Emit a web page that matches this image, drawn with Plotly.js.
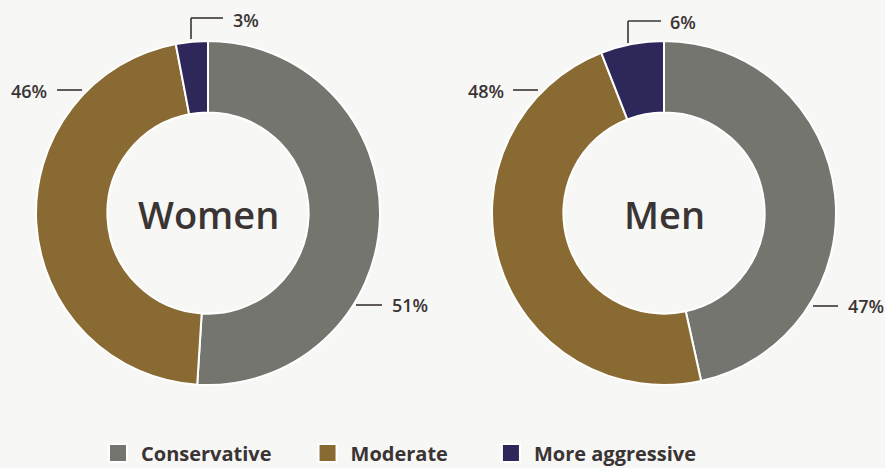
<!DOCTYPE html>
<html>
<head>
<meta charset="utf-8">
<script src="https://cdn.plot.ly/plotly-3.0.1.min.js"></script>
<style>html,body{margin:0;padding:0;background:#f7f7f5;}#chart{width:885px;height:468px;}</style>
</head>
<body>
<div id="chart"></div>
<script>
// ---- data ----
const categories = ["Conservative", "Moderate", "More aggressive"];
const womenValues = [51, 46, 3];
const menValues = [47, 48, 6];
const groupNames = ["Women", "Men"];
const colors = ["#75756f", "#8a6a33", "#2e2759"];

// ---- helpers: pixel -> paper ----
const W = 885, H = 468;
const px = x => x / W;
const py = y => 1 - y / H;
const ink = "#3a3434";
const fontFam = "'Open Sans', sans-serif";

function pieTrace(values, name, x0, x1, showlegend) {
  return {
    type: "pie",
    labels: categories,
    values: values,
    name: name,
    sort: false,
    direction: "clockwise",
    rotation: 0,
    hole: 0.585,
    textinfo: "none",
    hoverinfo: "label+percent",
    marker: {colors: colors, line: {color: "#ffffff", width: 2}},
    domain: {x: [px(x0), px(x1)], y: [py(385), py(41)]},
    showlegend: showlegend
  };
}

const data = [
  pieTrace(womenValues, groupNames[0], 36, 380, true),
  pieTrace(menValues, groupNames[1], 492, 836, false)
];

const lblFont = {family: fontFam, size: 18, color: ink, weight: 600};
function pctLabel(v, ty, lx, xanchor) {
  return {
    xref: "paper", yref: "paper",
    x: px(lx), y: py(ty),
    text: v + "%",
    showarrow: false,
    xanchor: xanchor, yanchor: "middle",
    font: lblFont
  };
}

const centerFont = {family: fontFam, size: 38, color: ink, weight: 600};
const annotations = [
  {xref: "paper", yref: "paper", x: px(208), y: py(214), text: groupNames[0], showarrow: false,
   font: centerFont, xanchor: "center", yanchor: "middle"},
  {xref: "paper", yref: "paper", x: px(664), y: py(214), text: groupNames[1], showarrow: false,
   font: centerFont, xanchor: "center", yanchor: "middle"},
  pctLabel(womenValues[0], 305, 390, "left"),
  pctLabel(womenValues[1], 91, 49, "right"),
  pctLabel(womenValues[2], 20, 231, "left"),
  pctLabel(menValues[0], 306, 846, "left"),
  pctLabel(menValues[1], 91, 506, "right"),
  pctLabel(menValues[2], 22, 668, "left")
];

const ln = {color: ink, width: 1.6};
const seg = (x0, y0, x1, y1) => ({type: "line", xref: "paper", yref: "paper",
  x0: px(x0), y0: py(y0), x1: px(x1), y1: py(y1), line: ln});
const shapes = [
  seg(356, 305, 382, 305),
  seg(57, 90, 82, 90),
  seg(191, 39, 191, 18), seg(191, 18, 223, 18),
  seg(813, 306, 838, 306),
  seg(513, 90, 538, 90),
  seg(628, 43, 628, 21), seg(628, 21, 661, 21)
];

const layout = {
  width: W, height: H,
  margin: {l: 0, r: 0, t: 0, b: 0, autoexpand: false},
  paper_bgcolor: "#f7f7f5",
  plot_bgcolor: "#f7f7f5",
  showlegend: true,
  legend: {
    orientation: "h",
    x: px(95), xanchor: "left",
    y: py(453), yanchor: "middle",
    font: {family: fontFam, size: 20, color: ink, weight: 700},
    itemwidth: 36,
    itemclick: false
  },
  annotations: annotations,
  shapes: shapes
};

// style tweaks of the legend: bigger swatches and wider gaps between entries
const entryShift = [0, 28, 63];
function styleLegend() {
  document.querySelectorAll("#chart .legend [clip-path]").forEach(e => e.removeAttribute("clip-path"));
  document.querySelectorAll("#chart .legend .legendpoints path").forEach(p => {
    p.setAttribute("d", "M9,9H-9V-9H9Z");
  });
  document.querySelectorAll("#chart .legend .traces").forEach((g, i) => {
    if (g.dataset.shifted) return;
    const t = g.getAttribute("transform") || "";
    const m = t.match(/translate\(\s*([-\d.]+)[ ,]+([-\d.]+)\s*\)/);
    if (m) {
      g.setAttribute("transform", `translate(${parseFloat(m[1]) + (entryShift[i] || 0)},${m[2]})`);
      g.dataset.shifted = "1";
    }
  });
}
Plotly.newPlot("chart", data, layout, {displayModeBar: false, staticPlot: true}).then(gd => {
  styleLegend();
});
</script>
</body>
</html>
